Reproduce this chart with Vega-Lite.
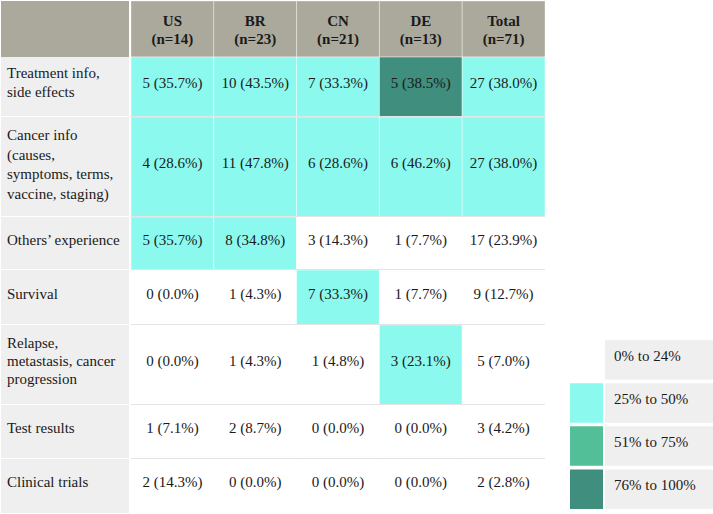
{
  "$schema": "https://vega.github.io/schema/vega-lite/v6.json",
  "padding": 0,
  "background": "#ffffff",
  "config": {"view": {"stroke": null}, "text": {"font": "Liberation Serif", "fontSize": 15, "color": "#1a1a1a"}},
  "datasets": {
    "header": [
      {"country": "US", "title": ["US", "(n=14)"]},
      {"country": "BR", "title": ["BR", "(n=23)"]},
      {"country": "CN", "title": ["CN", "(n=21)"]},
      {"country": "DE", "title": ["DE", "(n=13)"]},
      {"country": "Total", "title": ["Total", "(n=71)"]}
    ],
    "topics": [
      {"topic": "t1", "lines": ["Treatment info,", "side effects"]},
      {"topic": "t2", "lines": ["Cancer info", "(causes,", "symptoms, terms,", "vaccine, staging)"]},
      {"topic": "t3", "lines": ["Others’ experience"]},
      {"topic": "t4", "lines": ["Survival"]},
      {"topic": "t5", "lines": ["Relapse,", "metastasis, cancer", "progression"]},
      {"topic": "t6", "lines": ["Test results"]},
      {"topic": "t7", "lines": ["Clinical trials"]}
    ],
    "cells": [
      {"topic": "t1", "country": "US", "label": "5 (35.7%)", "shade": "cyan"},
      {"topic": "t1", "country": "BR", "label": "10 (43.5%)", "shade": "cyan"},
      {"topic": "t1", "country": "CN", "label": "7 (33.3%)", "shade": "cyan"},
      {"topic": "t1", "country": "DE", "label": "5 (38.5%)", "shade": "dark"},
      {"topic": "t1", "country": "Total", "label": "27 (38.0%)", "shade": "cyan"},
      {"topic": "t2", "country": "US", "label": "4 (28.6%)", "shade": "cyan"},
      {"topic": "t2", "country": "BR", "label": "11 (47.8%)", "shade": "cyan"},
      {"topic": "t2", "country": "CN", "label": "6 (28.6%)", "shade": "cyan"},
      {"topic": "t2", "country": "DE", "label": "6 (46.2%)", "shade": "cyan"},
      {"topic": "t2", "country": "Total", "label": "27 (38.0%)", "shade": "cyan"},
      {"topic": "t3", "country": "US", "label": "5 (35.7%)", "shade": "cyan"},
      {"topic": "t3", "country": "BR", "label": "8 (34.8%)", "shade": "cyan"},
      {"topic": "t3", "country": "CN", "label": "3 (14.3%)", "shade": "none"},
      {"topic": "t3", "country": "DE", "label": "1 (7.7%)", "shade": "none"},
      {"topic": "t3", "country": "Total", "label": "17 (23.9%)", "shade": "none"},
      {"topic": "t4", "country": "US", "label": "0 (0.0%)", "shade": "none"},
      {"topic": "t4", "country": "BR", "label": "1 (4.3%)", "shade": "none"},
      {"topic": "t4", "country": "CN", "label": "7 (33.3%)", "shade": "cyan"},
      {"topic": "t4", "country": "DE", "label": "1 (7.7%)", "shade": "none"},
      {"topic": "t4", "country": "Total", "label": "9 (12.7%)", "shade": "none"},
      {"topic": "t5", "country": "US", "label": "0 (0.0%)", "shade": "none"},
      {"topic": "t5", "country": "BR", "label": "1 (4.3%)", "shade": "none"},
      {"topic": "t5", "country": "CN", "label": "1 (4.8%)", "shade": "none"},
      {"topic": "t5", "country": "DE", "label": "3 (23.1%)", "shade": "cyan"},
      {"topic": "t5", "country": "Total", "label": "5 (7.0%)", "shade": "none"},
      {"topic": "t6", "country": "US", "label": "1 (7.1%)", "shade": "none"},
      {"topic": "t6", "country": "BR", "label": "2 (8.7%)", "shade": "none"},
      {"topic": "t6", "country": "CN", "label": "0 (0.0%)", "shade": "none"},
      {"topic": "t6", "country": "DE", "label": "0 (0.0%)", "shade": "none"},
      {"topic": "t6", "country": "Total", "label": "3 (4.2%)", "shade": "none"},
      {"topic": "t7", "country": "US", "label": "2 (14.3%)", "shade": "none"},
      {"topic": "t7", "country": "BR", "label": "0 (0.0%)", "shade": "none"},
      {"topic": "t7", "country": "CN", "label": "0 (0.0%)", "shade": "none"},
      {"topic": "t7", "country": "DE", "label": "0 (0.0%)", "shade": "none"},
      {"topic": "t7", "country": "Total", "label": "2 (2.8%)", "shade": "none"}
    ],
    "legend": [
      {"range": "0% to 24%", "shade": "none"},
      {"range": "25% to 50%", "shade": "cyan"},
      {"range": "51% to 75%", "shade": "mid"},
      {"range": "76% to 100%", "shade": "dark"}
    ]
  },
  "spacing": 24,
  "hconcat": [
    {
      "spacing": 0,
      "hconcat": [
        {
          "bounds": "flush",
          "spacing": 0,
          "vconcat": [
            {"width": 128, "height": 56, "data": {"values": [{}]},
             "mark": {"type": "rect", "color": "#aba99c"},
             "encoding": {"x": {"value": 0}, "x2": {"value": "width"}, "y": {"value": 0}, "y2": {"value": "height"}}},
            {"width": 128, "height": 60, "data": {"name": "topics"}, "transform": [{"filter": "datum.topic === 't1'"}],
             "layer": [
               {"mark": {"type": "rect", "color": "#efefef"}, "encoding": {"x": {"value": 0}, "x2": {"value": "width"}, "y": {"value": 0}, "y2": {"value": "height"}}},
               {"mark": {"type": "text", "align": "left", "baseline": "middle", "dx": 6, "dy": -14, "lineHeight": 19}, "encoding": {"x": {"value": 0}, "text": {"field": "lines", "type": "nominal"}}},
               {"mark": {"type": "rule", "color": "#ffffff", "strokeWidth": 2}, "encoding": {"y": {"value": "height"}}}
             ]},
            {"width": 128, "height": 100, "data": {"name": "topics"}, "transform": [{"filter": "datum.topic === 't2'"}],
             "layer": [
               {"mark": {"type": "rect", "color": "#efefef"}, "encoding": {"x": {"value": 0}, "x2": {"value": "width"}, "y": {"value": 0}, "y2": {"value": "height"}}},
               {"mark": {"type": "text", "align": "left", "baseline": "middle", "dx": 6, "dy": -32, "lineHeight": 19.5}, "encoding": {"x": {"value": 0}, "text": {"field": "lines", "type": "nominal"}}},
               {"mark": {"type": "rule", "color": "#ffffff", "strokeWidth": 2}, "encoding": {"y": {"value": "height"}}}
             ]},
            {"width": 128, "height": 53, "data": {"name": "topics"}, "transform": [{"filter": "datum.topic === 't3'"}],
             "layer": [
               {"mark": {"type": "rect", "color": "#efefef"}, "encoding": {"x": {"value": 0}, "x2": {"value": "width"}, "y": {"value": 0}, "y2": {"value": "height"}}},
               {"mark": {"type": "text", "align": "left", "baseline": "middle", "dx": 6, "dy": -4, "lineHeight": 19}, "encoding": {"x": {"value": 0}, "text": {"field": "lines", "type": "nominal"}}},
               {"mark": {"type": "rule", "color": "#ffffff", "strokeWidth": 2}, "encoding": {"y": {"value": "height"}}}
             ]},
            {"width": 128, "height": 55, "data": {"name": "topics"}, "transform": [{"filter": "datum.topic === 't4'"}],
             "layer": [
               {"mark": {"type": "rect", "color": "#efefef"}, "encoding": {"x": {"value": 0}, "x2": {"value": "width"}, "y": {"value": 0}, "y2": {"value": "height"}}},
               {"mark": {"type": "text", "align": "left", "baseline": "middle", "dx": 6, "dy": -4, "lineHeight": 19}, "encoding": {"x": {"value": 0}, "text": {"field": "lines", "type": "nominal"}}},
               {"mark": {"type": "rule", "color": "#ffffff", "strokeWidth": 2}, "encoding": {"y": {"value": "height"}}}
             ]},
            {"width": 128, "height": 80, "data": {"name": "topics"}, "transform": [{"filter": "datum.topic === 't5'"}],
             "layer": [
               {"mark": {"type": "rect", "color": "#efefef"}, "encoding": {"x": {"value": 0}, "x2": {"value": "width"}, "y": {"value": 0}, "y2": {"value": "height"}}},
               {"mark": {"type": "text", "align": "left", "baseline": "middle", "dx": 6, "dy": -22, "lineHeight": 18}, "encoding": {"x": {"value": 0}, "text": {"field": "lines", "type": "nominal"}}},
               {"mark": {"type": "rule", "color": "#ffffff", "strokeWidth": 2}, "encoding": {"y": {"value": "height"}}}
             ]},
            {"width": 128, "height": 54, "data": {"name": "topics"}, "transform": [{"filter": "datum.topic === 't6'"}],
             "layer": [
               {"mark": {"type": "rect", "color": "#efefef"}, "encoding": {"x": {"value": 0}, "x2": {"value": "width"}, "y": {"value": 0}, "y2": {"value": "height"}}},
               {"mark": {"type": "text", "align": "left", "baseline": "middle", "dx": 6, "dy": -4, "lineHeight": 19}, "encoding": {"x": {"value": 0}, "text": {"field": "lines", "type": "nominal"}}},
               {"mark": {"type": "rule", "color": "#ffffff", "strokeWidth": 2}, "encoding": {"y": {"value": "height"}}}
             ]},
            {"width": 128, "height": 54, "data": {"name": "topics"}, "transform": [{"filter": "datum.topic === 't7'"}],
             "layer": [
               {"mark": {"type": "rect", "color": "#efefef"}, "encoding": {"x": {"value": 0}, "x2": {"value": "width"}, "y": {"value": 0}, "y2": {"value": "height"}}},
               {"mark": {"type": "text", "align": "left", "baseline": "middle", "dx": 6, "dy": -4, "lineHeight": 19}, "encoding": {"x": {"value": 0}, "text": {"field": "lines", "type": "nominal"}}}
             ]}
          ]
        },
        {
          "bounds": "flush",
          "spacing": 0,
          "vconcat": [
            {"width": 414, "height": 56, "data": {"name": "header"},
             "layer": [
               {"mark": {"type": "rect", "color": "#aba99c", "stroke": "#ffffff", "strokeOpacity": 0.35, "strokeWidth": 1},
                "encoding": {"x": {"field": "country", "type": "nominal", "scale": {"domain": ["US", "BR", "CN", "DE", "Total"], "paddingInner": 0, "paddingOuter": 0}, "axis": null}, "y": {"value": 0}, "y2": {"value": "height"}}},
               {"mark": {"type": "text", "fontWeight": "bold", "baseline": "middle", "dy": -8, "lineHeight": 18},
                "encoding": {"x": {"field": "country", "type": "nominal", "scale": {"domain": ["US", "BR", "CN", "DE", "Total"], "paddingInner": 0, "paddingOuter": 0}, "axis": null}, "text": {"field": "title", "type": "nominal"}}}
             ]},
            {"width": 414, "height": 60, "data": {"name": "cells"}, "transform": [{"filter": "datum.topic === 't1'"}],
             "layer": [
               {"mark": {"type": "rect", "stroke": "#ffffff", "strokeOpacity": 0.45, "strokeWidth": 1},
                "encoding": {"x": {"field": "country", "type": "nominal", "scale": {"domain": ["US", "BR", "CN", "DE", "Total"], "paddingInner": 0, "paddingOuter": 0}, "axis": null}, "y": {"value": 0}, "y2": {"value": "height"},
                  "fill": {"field": "shade", "type": "nominal", "scale": {"domain": ["none", "cyan", "mid", "dark"], "range": ["#ffffff", "#8cf9ef", "#52bf98", "#3f8e7e"]}, "legend": null}}},
               {"mark": {"type": "text", "baseline": "middle", "dy": -4},
                "encoding": {"x": {"field": "country", "type": "nominal", "scale": {"domain": ["US", "BR", "CN", "DE", "Total"], "paddingInner": 0, "paddingOuter": 0}, "axis": null}, "text": {"field": "label", "type": "nominal"}}},
               {"mark": {"type": "rule", "color": "#dcdcdc", "strokeWidth": 1.5}, "encoding": {"y": {"value": "height"}}}
             ]},
            {"width": 414, "height": 100, "data": {"name": "cells"}, "transform": [{"filter": "datum.topic === 't2'"}],
             "layer": [
               {"mark": {"type": "rect", "stroke": "#ffffff", "strokeOpacity": 0.45, "strokeWidth": 1},
                "encoding": {"x": {"field": "country", "type": "nominal", "scale": {"domain": ["US", "BR", "CN", "DE", "Total"], "paddingInner": 0, "paddingOuter": 0}, "axis": null}, "y": {"value": 0}, "y2": {"value": "height"},
                  "fill": {"field": "shade", "type": "nominal", "scale": {"domain": ["none", "cyan", "mid", "dark"], "range": ["#ffffff", "#8cf9ef", "#52bf98", "#3f8e7e"]}, "legend": null}}},
               {"mark": {"type": "text", "baseline": "middle", "dy": -4},
                "encoding": {"x": {"field": "country", "type": "nominal", "scale": {"domain": ["US", "BR", "CN", "DE", "Total"], "paddingInner": 0, "paddingOuter": 0}, "axis": null}, "text": {"field": "label", "type": "nominal"}}},
               {"mark": {"type": "rule", "color": "#dcdcdc", "strokeWidth": 1.5}, "encoding": {"y": {"value": "height"}}}
             ]},
            {"width": 414, "height": 53, "data": {"name": "cells"}, "transform": [{"filter": "datum.topic === 't3'"}],
             "layer": [
               {"mark": {"type": "rect", "stroke": "#ffffff", "strokeOpacity": 0.45, "strokeWidth": 1},
                "encoding": {"x": {"field": "country", "type": "nominal", "scale": {"domain": ["US", "BR", "CN", "DE", "Total"], "paddingInner": 0, "paddingOuter": 0}, "axis": null}, "y": {"value": 0}, "y2": {"value": "height"},
                  "fill": {"field": "shade", "type": "nominal", "scale": {"domain": ["none", "cyan", "mid", "dark"], "range": ["#ffffff", "#8cf9ef", "#52bf98", "#3f8e7e"]}, "legend": null}}},
               {"mark": {"type": "text", "baseline": "middle", "dy": -4},
                "encoding": {"x": {"field": "country", "type": "nominal", "scale": {"domain": ["US", "BR", "CN", "DE", "Total"], "paddingInner": 0, "paddingOuter": 0}, "axis": null}, "text": {"field": "label", "type": "nominal"}}},
               {"mark": {"type": "rule", "color": "#dcdcdc", "strokeWidth": 1.5}, "encoding": {"y": {"value": "height"}}}
             ]},
            {"width": 414, "height": 55, "data": {"name": "cells"}, "transform": [{"filter": "datum.topic === 't4'"}],
             "layer": [
               {"mark": {"type": "rect", "stroke": "#ffffff", "strokeOpacity": 0.45, "strokeWidth": 1},
                "encoding": {"x": {"field": "country", "type": "nominal", "scale": {"domain": ["US", "BR", "CN", "DE", "Total"], "paddingInner": 0, "paddingOuter": 0}, "axis": null}, "y": {"value": 0}, "y2": {"value": "height"},
                  "fill": {"field": "shade", "type": "nominal", "scale": {"domain": ["none", "cyan", "mid", "dark"], "range": ["#ffffff", "#8cf9ef", "#52bf98", "#3f8e7e"]}, "legend": null}}},
               {"mark": {"type": "text", "baseline": "middle", "dy": -4},
                "encoding": {"x": {"field": "country", "type": "nominal", "scale": {"domain": ["US", "BR", "CN", "DE", "Total"], "paddingInner": 0, "paddingOuter": 0}, "axis": null}, "text": {"field": "label", "type": "nominal"}}},
               {"mark": {"type": "rule", "color": "#dcdcdc", "strokeWidth": 1.5}, "encoding": {"y": {"value": "height"}}}
             ]},
            {"width": 414, "height": 80, "data": {"name": "cells"}, "transform": [{"filter": "datum.topic === 't5'"}],
             "layer": [
               {"mark": {"type": "rect", "stroke": "#ffffff", "strokeOpacity": 0.45, "strokeWidth": 1},
                "encoding": {"x": {"field": "country", "type": "nominal", "scale": {"domain": ["US", "BR", "CN", "DE", "Total"], "paddingInner": 0, "paddingOuter": 0}, "axis": null}, "y": {"value": 0}, "y2": {"value": "height"},
                  "fill": {"field": "shade", "type": "nominal", "scale": {"domain": ["none", "cyan", "mid", "dark"], "range": ["#ffffff", "#8cf9ef", "#52bf98", "#3f8e7e"]}, "legend": null}}},
               {"mark": {"type": "text", "baseline": "middle", "dy": -4},
                "encoding": {"x": {"field": "country", "type": "nominal", "scale": {"domain": ["US", "BR", "CN", "DE", "Total"], "paddingInner": 0, "paddingOuter": 0}, "axis": null}, "text": {"field": "label", "type": "nominal"}}},
               {"mark": {"type": "rule", "color": "#dcdcdc", "strokeWidth": 1.5}, "encoding": {"y": {"value": "height"}}}
             ]},
            {"width": 414, "height": 54, "data": {"name": "cells"}, "transform": [{"filter": "datum.topic === 't6'"}],
             "layer": [
               {"mark": {"type": "rect", "stroke": "#ffffff", "strokeOpacity": 0.45, "strokeWidth": 1},
                "encoding": {"x": {"field": "country", "type": "nominal", "scale": {"domain": ["US", "BR", "CN", "DE", "Total"], "paddingInner": 0, "paddingOuter": 0}, "axis": null}, "y": {"value": 0}, "y2": {"value": "height"},
                  "fill": {"field": "shade", "type": "nominal", "scale": {"domain": ["none", "cyan", "mid", "dark"], "range": ["#ffffff", "#8cf9ef", "#52bf98", "#3f8e7e"]}, "legend": null}}},
               {"mark": {"type": "text", "baseline": "middle", "dy": -4},
                "encoding": {"x": {"field": "country", "type": "nominal", "scale": {"domain": ["US", "BR", "CN", "DE", "Total"], "paddingInner": 0, "paddingOuter": 0}, "axis": null}, "text": {"field": "label", "type": "nominal"}}},
               {"mark": {"type": "rule", "color": "#dcdcdc", "strokeWidth": 1.5}, "encoding": {"y": {"value": "height"}}}
             ]},
            {"width": 414, "height": 54, "data": {"name": "cells"}, "transform": [{"filter": "datum.topic === 't7'"}],
             "layer": [
               {"mark": {"type": "rect", "stroke": "#ffffff", "strokeOpacity": 0.45, "strokeWidth": 1},
                "encoding": {"x": {"field": "country", "type": "nominal", "scale": {"domain": ["US", "BR", "CN", "DE", "Total"], "paddingInner": 0, "paddingOuter": 0}, "axis": null}, "y": {"value": 0}, "y2": {"value": "height"},
                  "fill": {"field": "shade", "type": "nominal", "scale": {"domain": ["none", "cyan", "mid", "dark"], "range": ["#ffffff", "#8cf9ef", "#52bf98", "#3f8e7e"]}, "legend": null}}},
               {"mark": {"type": "text", "baseline": "middle", "dy": -4},
                "encoding": {"x": {"field": "country", "type": "nominal", "scale": {"domain": ["US", "BR", "CN", "DE", "Total"], "paddingInner": 0, "paddingOuter": 0}, "axis": null}, "text": {"field": "label", "type": "nominal"}}}
             ]}
          ]
        }
      ]
    },
    {
      "spacing": 0,
      "vconcat": [
        {"width": 144, "height": 339, "data": {"values": [{}]},
         "mark": {"type": "rect", "opacity": 0},
         "encoding": {"x": {"value": 0}, "x2": {"value": "width"}, "y": {"value": 0}, "y2": {"value": "height"}}},
        {
          "bounds": "flush",
          "spacing": 2,
          "hconcat": [
            {"width": 33, "height": 169, "data": {"name": "legend"},
             "mark": {"type": "rect"},
             "encoding": {
               "y": {"field": "range", "type": "nominal", "sort": null, "scale": {"paddingInner": 0.085, "paddingOuter": 0}, "axis": null},
               "x": {"value": 0}, "x2": {"value": "width"},
               "fill": {"field": "shade", "type": "nominal", "scale": {"domain": ["none", "cyan", "mid", "dark"], "range": ["#ffffff", "#8cf9ef", "#52bf98", "#3f8e7e"]}, "legend": null}}},
            {"width": 109, "height": 169, "data": {"name": "legend"},
             "layer": [
               {"mark": {"type": "rect", "color": "#efefef"},
                "encoding": {"y": {"field": "range", "type": "nominal", "sort": null, "scale": {"paddingInner": 0.085, "paddingOuter": 0}, "axis": null}, "x": {"value": 0}, "x2": {"value": "width"}}},
               {"mark": {"type": "text", "align": "left", "baseline": "middle", "dx": 9, "dy": -4},
                "encoding": {"y": {"field": "range", "type": "nominal", "sort": null, "scale": {"paddingInner": 0.085, "paddingOuter": 0}, "axis": null}, "x": {"value": 0}, "text": {"field": "range", "type": "nominal"}}}
             ]}
          ]
        }
      ]
    }
  ]
}
